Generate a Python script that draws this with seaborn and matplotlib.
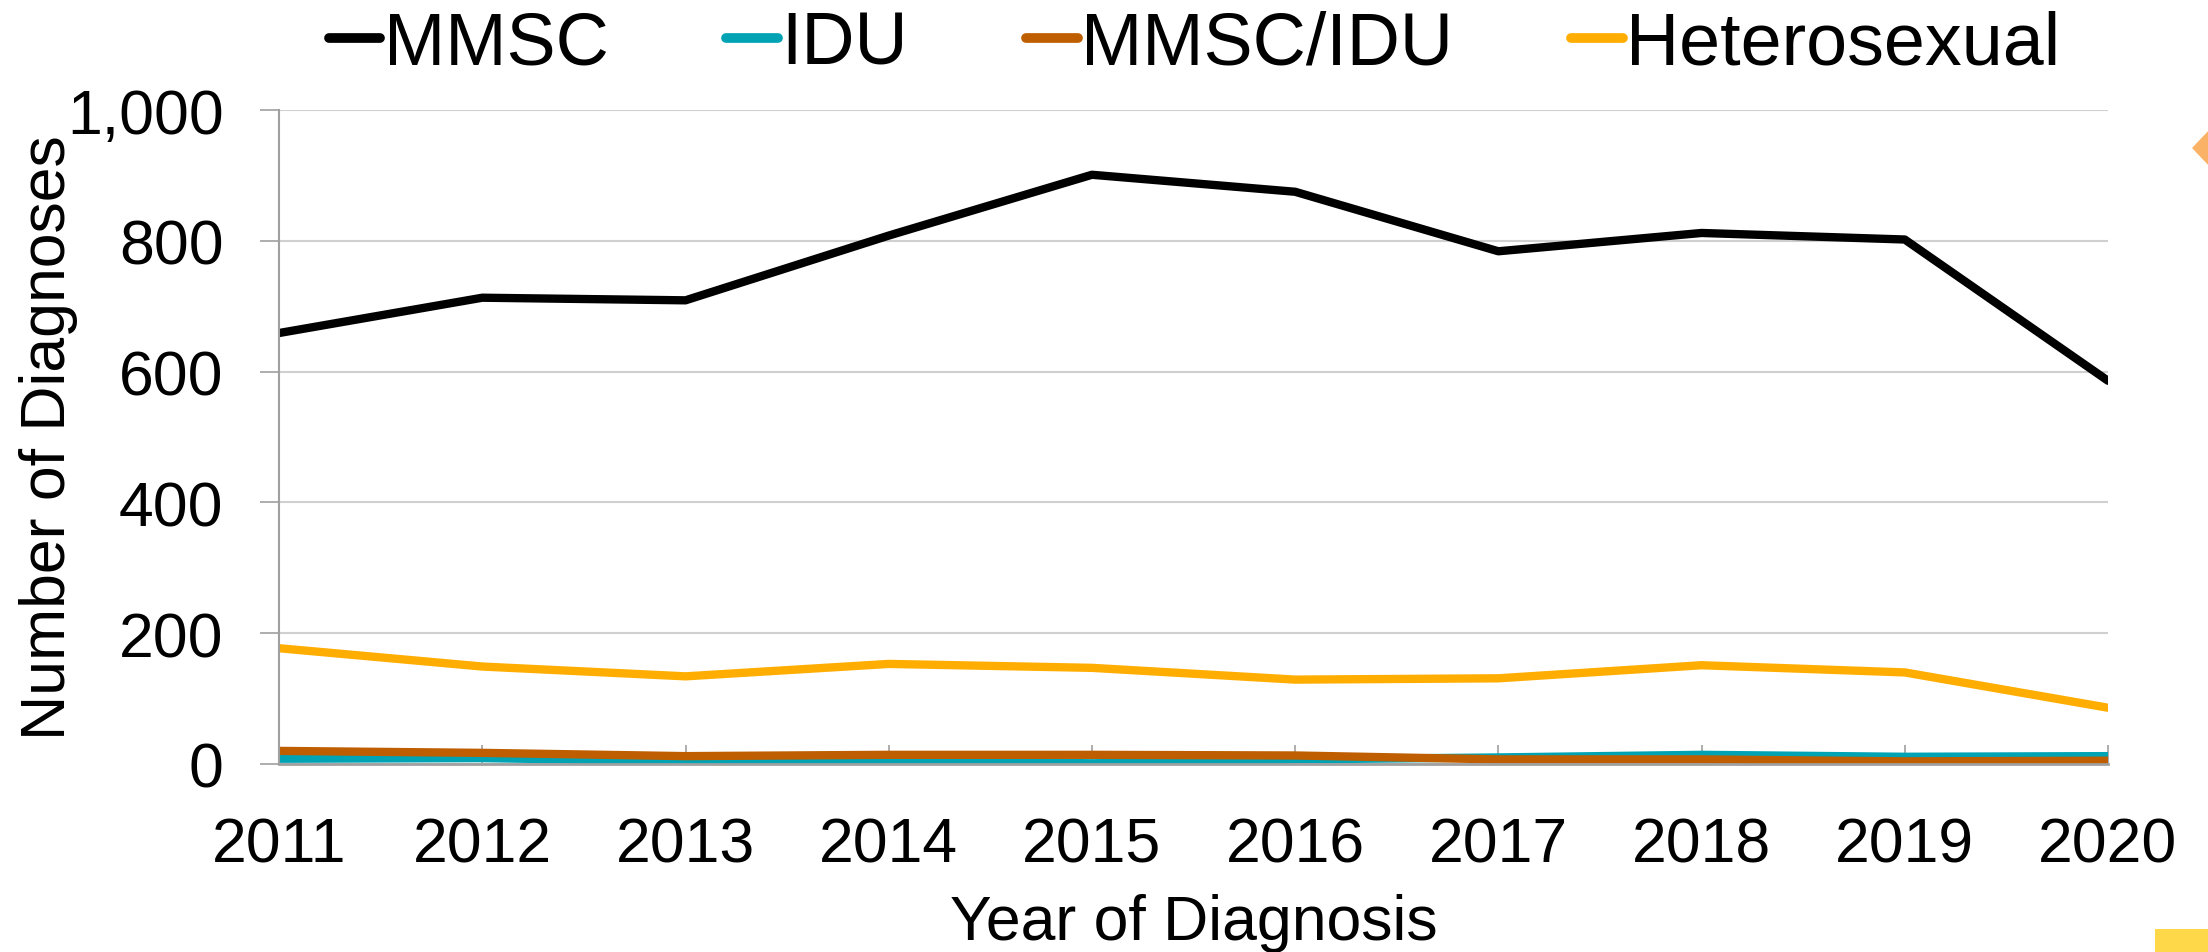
import pandas as pd
import numpy as np
import matplotlib
matplotlib.use('Agg')
import matplotlib.pyplot as plt
import seaborn as sns
from matplotlib.patches import Polygon, Rectangle

# data
years = [2011, 2012, 2013, 2014, 2015, 2016, 2017, 2018, 2019, 2020]
mmsc = [659, 713, 709, 808, 901, 875, 784, 812, 802, 586]
idu = [8, 9, 4, 6, 1, 7, 10, 14, 11, 12]
mmsc_idu = [20, 17, 12, 14, 14, 13, 7, 7, 4, 5]
hetero = [177, 149, 134, 153, 147, 129, 131, 151, 140, 86]

groups = ['MMSC', 'IDU', 'MMSC/IDU', 'Heterosexual']
colors = ['#000000', '#00A3B3', '#BE5E00', '#FFAD00']

df = pd.DataFrame({'year': years, 'MMSC': mmsc, 'IDU': idu,
                   'MMSC/IDU': mmsc_idu, 'Heterosexual': hetero})
long = df.melt(id_vars='year', var_name='group', value_name='n')

sns.set_style('white')
plt.rcParams['font.family'] = ['Liberation Sans', 'DejaVu Sans']
plt.rcParams['text.color'] = 'black'
plt.rcParams['axes.labelcolor'] = 'black'
plt.rcParams['xtick.color'] = 'black'
plt.rcParams['ytick.color'] = 'black'

fig = plt.figure(figsize=(22.08, 9.53), dpi=100)
ax = fig.add_axes([0.1264, 0.1973, 0.8283, 0.6862])

sns.lineplot(data=long, x='year', y='n', hue='group', hue_order=groups,
             palette=colors, linewidth=6, ax=ax, legend=True)

ax.set_xlim(2011, 2020)
ax.set_ylim(0, 1000)
ax.set_yticks(range(0, 1001, 200))
ax.set_yticklabels([f'{v:,}' for v in range(0, 1001, 200)])
ax.set_xticks(years)
ax.set_xticklabels([str(y) for y in years])

ax.grid(axis='y', color='#d0d0d0', linewidth=1.5)
ax.set_axisbelow(True)
for s in ['top', 'right']:
    ax.spines[s].set_visible(False)
ax.spines['left'].set_color('#a0a0a0')
ax.spines['bottom'].set_color('#a0a0a0')
ax.spines['left'].set_linewidth(1.5)
ax.spines['bottom'].set_linewidth(2)

ax.tick_params(axis='x', bottom=True, direction='in', length=14, width=1.2,
               color='#a0a0a0', labelcolor='black', labelsize=45, pad=37)
ax.tick_params(axis='y', left=True, direction='out', length=14, width=1.2,
               color='#a0a0a0', labelcolor='black', labelsize=45, pad=26)

ax.set_xlabel('Year of Diagnosis', fontsize=45)
ax.set_ylabel('Number of Diagnoses', fontsize=45)
ax.xaxis.set_label_coords(0.5, -0.197)
ax.yaxis.set_label_coords(-0.110, 0.5)

handles, labels = ax.get_legend_handles_labels()
for h in handles:
    h.set_solid_capstyle('round')
    h.set_linewidth(7)
ax.legend(handles, labels, loc='center', bbox_to_anchor=(0.541, 0.953),
          bbox_transform=fig.transFigure, ncol=4, frameon=False, fontsize=53,
          handlelength=0.7, handletextpad=0.05, columnspacing=1.6,
          borderaxespad=0)

# slide decorations at the right edge
W, H = 2208, 953
fig.patches.append(Polygon([(2192 / W, 1 - 149 / H), (2212 / W, 1 - 128 / H),
                            (2232 / W, 1 - 149 / H), (2212 / W, 1 - 170 / H)],
                           closed=True, transform=fig.transFigure,
                           facecolor='#F9B266', edgecolor='none'))
fig.patches.append(Rectangle((2155 / W, 0), 53 / W, 23 / H,
                             transform=fig.transFigure,
                             facecolor='#FFD84A', edgecolor='none'))

fig.savefig('out.png', dpi=100)
